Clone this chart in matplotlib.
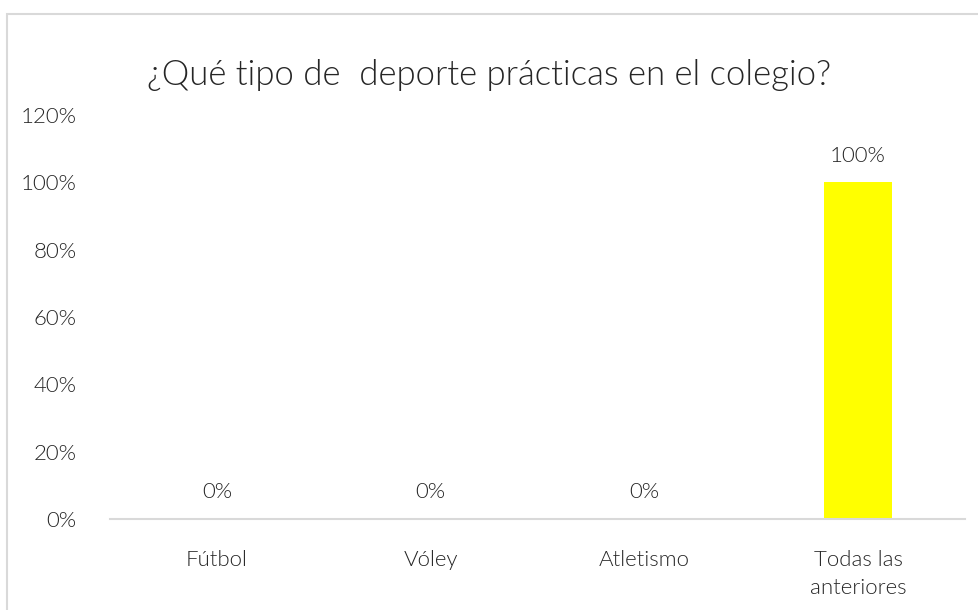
import matplotlib
matplotlib.use('Agg')
import matplotlib.pyplot as plt
from matplotlib.patches import Rectangle
from matplotlib.ticker import PercentFormatter

categorias = ['Fútbol', 'Vóley', 'Atletismo', 'Todas las\nanteriores']
porcentajes = [0, 0, 0, 100]
marcas_y = [0, 20, 40, 60, 80, 100, 120]
titulo = '¿Qué tipo de  deporte prácticas en el colegio?'

plt.rcParams['font.family'] = ['Lato', 'DejaVu Sans']
plt.rcParams['font.weight'] = 300
gris = '#262626'

fig = plt.figure(figsize=(9.79, 6.10), dpi=100)
ax = fig.add_axes([110 / 979, 91 / 610, 855 / 979, 404 / 610])

# marco del area del grafico
fig.patches.append(Rectangle((7 / 979, -0.1), 1.1, (610 - 14) / 610 + 0.1,
                             transform=fig.transFigure, fill=False,
                             edgecolor='#d9d9d9', linewidth=1.5))

x = range(len(categorias))
barras = ax.bar(x, porcentajes, width=0.32, color='#ffff00')
for xi, v in zip(x, porcentajes):
    ax.text(xi, v + 5, f'{v}%', ha='center', va='bottom', fontsize=16,
            color=gris)

ax.set_xlim(-0.5, len(categorias) - 0.5)
ax.set_ylim(0, 120)
ax.set_yticks(marcas_y)
ax.yaxis.set_major_formatter(PercentFormatter(decimals=0))
ax.set_xticks(list(x))
ax.set_xticklabels(categorias, linespacing=1.55)
ax.tick_params(axis='both', length=0, labelsize=16, colors=gris)
ax.tick_params(axis='y', pad=24)
ax.tick_params(axis='x', pad=22)

for lado in ['top', 'right', 'left']:
    ax.spines[lado].set_visible(False)
ax.spines['bottom'].set_color('#d9d9d9')
ax.spines['bottom'].set_linewidth(1.5)

fig.text(0.5, (610 - 75) / 610, titulo, ha='center', va='center',
         fontsize=25, color=gris)

fig.savefig('out.png', dpi=100, facecolor='white')
